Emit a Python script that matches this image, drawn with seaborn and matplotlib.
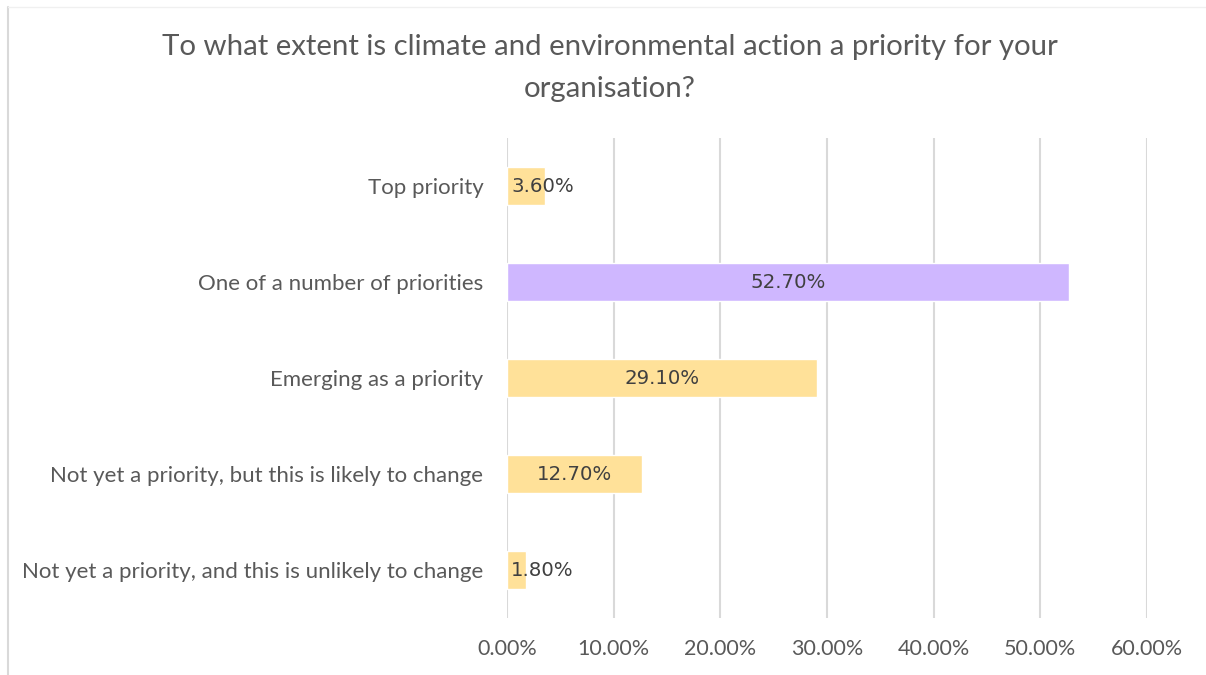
import matplotlib
matplotlib.use('Agg')
import matplotlib.pyplot as plt
import seaborn as sns
import pandas as pd
from matplotlib.lines import Line2D
from matplotlib.ticker import FuncFormatter

categories = ["Top priority",
              "One of a number of priorities",
              "Emerging as a priority",
              "Not yet a priority, but this is likely to change",
              "Not yet a priority, and this is unlikely to change"]
values = [3.6, 52.7, 29.1, 12.7, 1.8]
highlight = [False, True, False, False, False]
xticks = [0, 10, 20, 30, 40, 50, 60]
title = "To what extent is climate and environmental action a priority for your\norganisation?"

sns.set_theme(style='white')
plt.rcParams['font.family'] = ['Lato', 'DejaVu Sans']

W, H = 1206, 675
fig = plt.figure(figsize=(W / 100, H / 100), dpi=100)
fig.patch.set_facecolor('white')

# chart border (left visible, top faint)
fig.lines.append(Line2D([7.5 / W, 7.5 / W], [0, 1 - 7 / H], transform=fig.transFigure,
                        color='#D9D9D9', lw=1.5))
fig.lines.append(Line2D([7.5 / W, 1], [1 - 7 / H, 1 - 7 / H], transform=fig.transFigure,
                        color='#F0F0F0', lw=1.0))

ax = fig.add_axes([507 / W, 1 - 618 / H, 640 / W, 480 / H])
df = pd.DataFrame({'cat': categories, 'val': values,
                   'group': ['hi' if h else 'lo' for h in highlight]})
sns.barplot(data=df, y='cat', x='val', hue='group',
            palette={'hi': '#CFB7FF', 'lo': '#FFE199'}, orient='h',
            width=0.4, dodge=False, legend=False, ax=ax, saturation=1)

ax.set_xlim(0, 60)
ax.set_ylim(4.5, -0.5)
ax.set_xticks(xticks)
ax.xaxis.set_major_formatter(FuncFormatter(lambda v, p: f"{v:.2f}%"))
ax.grid(axis='x', color='#D9D9D9', lw=1.5)
ax.grid(axis='y', visible=False)
ax.set_axisbelow(True)
for s in ax.spines.values():
    s.set_visible(False)
ax.set_xlabel('')
ax.set_ylabel('')
ax.tick_params(axis='x', length=0, pad=15, labelsize=15.5, labelcolor='#595959')
ax.tick_params(axis='y', length=0, pad=17, labelsize=16, labelcolor='#595959')

for i, v in enumerate(values):
    txt = f"{v:.2f}%"
    if v < 6:
        ax.annotate(txt, xy=(0, i), xytext=(3, 0), textcoords='offset points',
                    ha='left', va='center', fontsize=14.2, color='#404040', family='DejaVu Sans')
    else:
        ax.text(v / 2, i, txt, ha='center', va='center', fontsize=14.2,
                color='#404040', family='DejaVu Sans')

fig.text(610 / W, 1 - 68 / H, title, ha='center', va='center', fontsize=21.2,
         color='#595959', linespacing=1.72)

fig.savefig('out.png', dpi=100)
